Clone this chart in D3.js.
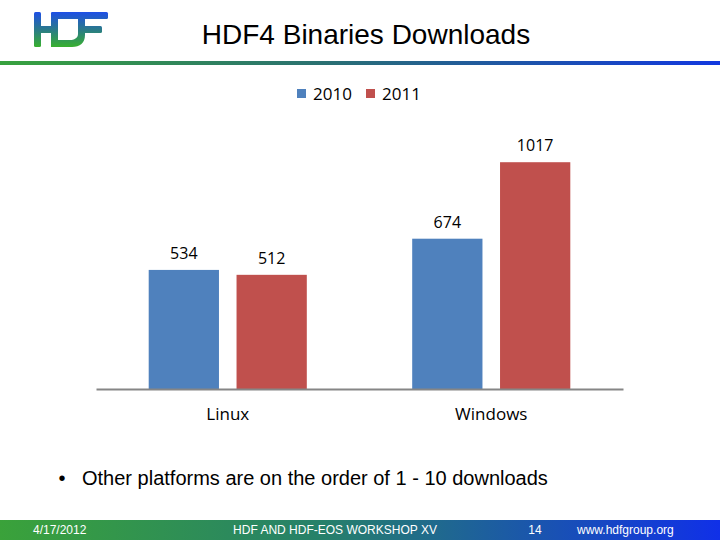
<!DOCTYPE html>
<html>
<head>
<meta charset="utf-8">
<script src="https://cdn.jsdelivr.net/npm/d3@7"></script>
<style>
  body { margin: 0; background: #fff; }
  svg { display: block; }
</style>
</head>
<body>
<svg id="chart" width="720" height="540"></svg>
<script>
// chart data
const categories = ["Linux", "Windows"];
const seriesNames = ["2010", "2011"];
const values2010 = [534, 674];
const values2011 = [512, 1017];
const seriesColors = ["#4f81bd", "#c0504d"];

const svg = d3.select("#chart");
const defs = svg.append("defs");

// gradients for slide decoration
const lineGrad = defs.append("linearGradient").attr("id", "lineGrad");
lineGrad.append("stop").attr("offset", "0%").attr("stop-color", "#38a23e");
lineGrad.append("stop").attr("offset", "45%").attr("stop-color", "#2a7072");
lineGrad.append("stop").attr("offset", "100%").attr("stop-color", "#1238e0");

const footGrad = defs.append("linearGradient").attr("id", "footGrad");
footGrad.append("stop").attr("offset", "0%").attr("stop-color", "#3aa23a");
footGrad.append("stop").attr("offset", "45%").attr("stop-color", "#26806a");
footGrad.append("stop").attr("offset", "100%").attr("stop-color", "#1030e8");

const logoGrad = defs.append("linearGradient").attr("id", "logoGrad")
  .attr("gradientUnits", "userSpaceOnUse")
  .attr("x1", 0).attr("y1", 12).attr("x2", 0).attr("y2", 47);
logoGrad.append("stop").attr("offset", "0%").attr("stop-color", "#1e4fe6");
logoGrad.append("stop").attr("offset", "50%").attr("stop-color", "#2a7a8a");
logoGrad.append("stop").attr("offset", "100%").attr("stop-color", "#38b02e");

// logo: H and D share a stem, the D bowl doubles as the F stem
const logo = svg.append("g").attr("fill", "url(#logoGrad)");
logo.append("rect").attr("x", 34).attr("y", 12).attr("width", 7).attr("height", 35).attr("rx", 1.5);
logo.append("rect").attr("x", 51).attr("y", 12).attr("width", 7).attr("height", 35).attr("rx", 1.5);
logo.append("rect").attr("x", 34).attr("y", 26).attr("width", 24).attr("height", 7);
logo.append("rect").attr("x", 51).attr("y", 12).attr("width", 57).attr("height", 7).attr("rx", 1.5);
logo.append("rect").attr("x", 78).attr("y", 26).attr("width", 24).attr("height", 7).attr("rx", 1.5);
logo.append("path").attr("d",
  "M78,18 h7 v17 c0,8 -5,12 -13,12 h-21 v-7 h19 c4,0 8,-2 8,-6 z");

svg.append("rect").attr("x", 0).attr("y", 61).attr("width", 720).attr("height", 4)
  .attr("fill", "url(#lineGrad)");

svg.append("text")
  .attr("x", 366).attr("y", 44)
  .attr("text-anchor", "middle")
  .attr("font-family", "Liberation Sans, Arial, sans-serif")
  .attr("font-size", 28)
  .attr("fill", "#000")
  .text("HDF4 Binaries Downloads");

// legend
const legend = svg.append("g").attr("font-family", "Open Sans, sans-serif").attr("font-size", 17);
const legendX = [297, 366];
seriesNames.forEach((s, i) => {
  legend.append("rect").attr("x", legendX[i]).attr("y", 89).attr("width", 9).attr("height", 9)
    .attr("fill", seriesColors[i]);
  legend.append("text").attr("x", legendX[i] + 16).attr("y", 100).attr("fill", "#000").text(s);
});

// scales
const x0 = d3.scaleBand().domain(categories).range([96, 623]);
const x1 = d3.scaleBand().domain(seriesNames).range([0, x0.bandwidth()])
  .paddingInner(0.2).paddingOuter(0.6);
const y = d3.scaleLinear().domain([0, 1200]).range([389, 121.4]);

const rows = categories.map((c, i) => ({
  category: c,
  values: [
    { series: seriesNames[0], value: values2010[i] },
    { series: seriesNames[1], value: values2011[i] }
  ]
}));

const groups = svg.append("g").selectAll("g")
  .data(rows)
  .join("g")
  .attr("transform", d => `translate(${x0(d.category)},0)`);

groups.selectAll("rect")
  .data(d => d.values)
  .join("rect")
  .attr("x", d => x1(d.series))
  .attr("y", d => y(d.value))
  .attr("width", x1.bandwidth())
  .attr("height", d => y(0) - y(d.value))
  .attr("fill", (d, i) => seriesColors[i]);

groups.selectAll("text.val")
  .data(d => d.values)
  .join("text")
  .attr("class", "val")
  .attr("x", d => x1(d.series) + x1.bandwidth() / 2)
  .attr("y", d => y(d.value) - 11)
  .attr("text-anchor", "middle")
  .attr("font-family", "Open Sans, sans-serif")
  .attr("font-size", 16)
  .attr("fill", "#000")
  .text(d => d.value);

// x axis
const xAxis = svg.append("g").attr("transform", "translate(0,389)")
  .call(d3.axisBottom(x0).tickSize(0).tickPadding(0));
xAxis.select(".domain").attr("stroke", "#868686").attr("stroke-width", 2);
xAxis.selectAll("text")
  .attr("dy", 0).attr("y", 31)
  .attr("font-family", "Open Sans, sans-serif")
  .attr("font-size", 17)
  .attr("fill", "#000");

// bullet
svg.append("text").attr("x", 62).attr("y", 485)
  .attr("text-anchor", "middle")
  .attr("font-family", "Liberation Sans, Arial, sans-serif").attr("font-size", 20)
  .text("•");
svg.append("text").attr("x", 82).attr("y", 485)
  .attr("font-family", "Liberation Sans, Arial, sans-serif").attr("font-size", 20)
  .attr("fill", "#000")
  .text("Other platforms are on the order of 1 - 10 downloads");

// footer
svg.append("rect").attr("x", 0).attr("y", 520).attr("width", 720).attr("height", 20)
  .attr("fill", "url(#footGrad)");
const foot = svg.append("g")
  .attr("font-family", "Liberation Sans Narrow, Arial Narrow, Liberation Sans, sans-serif")
  .attr("font-size", 12).attr("fill", "#fff");
foot.append("text").attr("x", 33).attr("y", 534).text("4/17/2012");
foot.append("text").attr("x", 335).attr("y", 534).attr("text-anchor", "middle").text("HDF AND HDF-EOS WORKSHOP XV");
foot.append("text").attr("x", 535).attr("y", 534).attr("text-anchor", "middle").text("14");
foot.append("text").attr("x", 577).attr("y", 534).text("www.hdfgroup.org");
</script>
</body>
</html>
